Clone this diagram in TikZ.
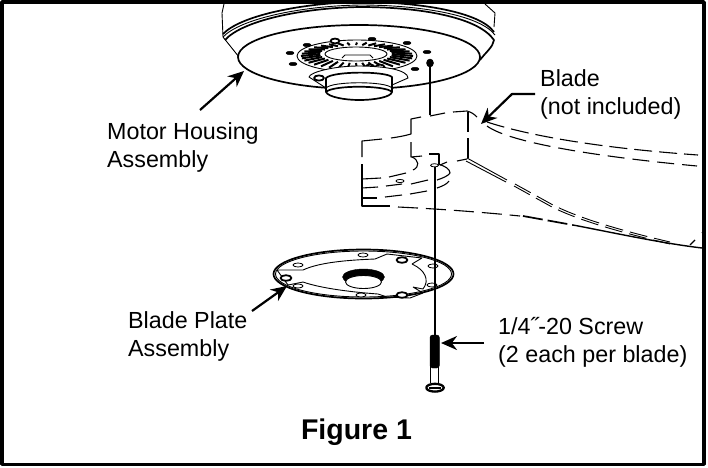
\documentclass[tikz,border=0pt]{standalone}
\usepackage{fontspec}
\setmainfont{Liberation Sans}
\usetikzlibrary{arrows.meta}

\begin{document}
\begin{tikzpicture}[
                x=1pt, y=-1pt,
                line join=bevel,
                partline/.style={black, line width=0.9pt},
                thickline/.style={black, line width=1.7pt},
                bladeline/.style={black, line width=1.1pt},
                smallhole/.style={draw=black, fill=white, line width=0.8pt},
                boldhole/.style={draw=black, fill=white, line width=1.8pt},
                darkhole/.style={draw=black, fill=black, line width=0.5pt},
                leader/.style={black, line width=2.2pt, -{Stealth[length=16pt, width=14pt]}},
                calloutlabel/.style={align=left, anchor=north west, inner sep=0pt, font=\fontsize{23.3}{28.5}\selectfont}
                ]
                \useasboundingbox (0, 0) rectangle (708, 467);

                %% Motor housing
                \begin{scope}
                \clip (4, 4) rectangle (704, 463);
                % Silhouette and rim
                \draw[partline] (224, 4) -- (222, 13) -- (223, 37) -- (239, 57);
                \draw[partline] (485, 4) -- (495, 13) -- (494, 27);
                \draw[thickline] (223, 34) .. controls (240, 16) and (300, 3) .. (360, 2) .. controls (420, 2) and (480, 12) .. (494, 32);
                \draw[partline] (223, 37) .. controls (240, 19) and (300, 6) .. (360, 5) .. controls (420, 5) and (480, 15) .. (495, 35);
                \draw[thickline] (225, 40) .. controls (242, 21) and (300, 8) .. (360, 7) .. controls (420, 7) and (478, 17) .. (494, 40) .. controls (493, 47) and (486, 52) .. (480, 60);
                \draw[thickline, fill=white] (359, 57) ellipse (121pt and 32pt);

                % Spoke ring
                \draw[partline] (357, 56) ellipse (60pt and 16pt);
                \foreach \a in {0,10,...,350} {
                    \draw[black, line width=2pt] ({356+36*cos(\a)}, {54+9*sin(\a)}) -- ({357+56*cos(\a)}, {56+13.5*sin(\a)});
                }
                \draw[partline, fill=white] (356, 54) ellipse (31pt and 7pt);
                \draw[partline] (342, 58) -- (345, 55) -- (370, 55) -- (373, 58);

                % Holes round the ring
                \foreach \x/\y in {290/53, 293/64, 307/45, 372/39, 407/43, 427/52, 415/69} {
                    \draw[darkhole] (\x, \y) ellipse (4pt and 1.7pt);
                }
                \foreach \x/\y in {335/41, 370/67, 380/67} {
                    \draw[boldhole] (\x, \y) ellipse (4.5pt and 2.4pt);
                }

                % Hub
                \draw[partline, fill=white] (309, 77) .. controls (310, 72) and (335, 66) .. (358, 66) .. controls (385, 66) and (408, 70) .. (408, 78) -- (392, 85) -- (326, 88) -- cycle;
                \draw[thickline, fill=white] (326, 78) -- (326, 92) .. controls (328, 97) and (345, 100) .. (359, 100) .. controls (375, 100) and (391, 97) .. (392, 92) -- (392, 77) .. controls (385, 71) and (333, 71) .. (326, 78) -- cycle;
                \draw[partline] (326, 88) .. controls (332, 81) and (386, 81) .. (392, 88);
                \draw[thickline] (326, 92) .. controls (332, 85) and (386, 85) .. (392, 92);
                \draw[boldhole] (319, 78) ellipse (5pt and 2.6pt);
                \end{scope}

                % Screw on the housing
                \draw[darkhole] (430, 63) ellipse (3.5pt and 4pt);
                \draw[thickline] (430, 66) -- (430, 115);

                %% Blade
                \begin{scope}[bladeline]
                \draw (362, 157) -- (362, 141) -- (382, 139);
                \draw (391, 138) .. controls (398, 137) and (404, 136) .. (411, 134) -- (411, 119) -- (421, 117);
                \draw (430, 116) -- (445, 113);
                \draw (453, 112) -- (467, 111) .. controls (471, 112) and (474, 114) .. (477, 117);
                \draw (468, 112) -- (468, 132);
                \draw (468, 138) -- (468, 158);
                \draw (362, 164) -- (362, 206) -- (390, 206);
                \draw (411, 142) -- (411, 157) -- (422, 156);
                \draw (412, 157) .. controls (419, 160) and (420, 167) .. (413, 170);
                \draw (429, 154) -- (439, 154) -- (439, 164);
                \draw (440, 165) -- (447, 162);
                \draw (457, 161) -- (467, 159);
                \draw (438, 164) .. controls (445, 166) and (450, 169) .. (450, 173) .. controls (448, 176) and (443, 178) .. (437, 180);
                \draw (449, 181) .. controls (447, 184) and (443, 186) .. (437, 188);
                % Stepped arcs
                \draw (362, 179) -- (381, 178);
                \draw (389, 177) -- (406, 173);
                \draw (362, 188) -- (378, 187);
                \draw (386, 186) -- (402, 184);
                \draw (411, 184) -- (428, 180);
                \draw (362, 198) -- (377, 198);
                \draw (385, 197) -- (402, 195);
                \draw (410, 194) -- (427, 191);
                \draw[smallhole] (400, 181) ellipse (4pt and 1.6pt);
                % Far edges
                \draw[dash pattern=on 18pt off 7pt] (487, 122) .. controls (530, 136) and (600, 148) .. (698, 155);
                \draw[dash pattern=on 17pt off 8pt] (487, 126) .. controls (510, 143) and (600, 157) .. (697, 166);
                % Near edge
                \draw[dash pattern=on 20pt off 8pt] (398, 207) .. controls (440, 209) and (480, 212) .. (520, 216);
                \draw[thickline, dash pattern=on 20pt off 5pt] (523, 216) -- (573, 225);
                \draw[line width=1.4pt] (573, 225) .. controls (610, 232) and (660, 243) .. (702, 248);
                \draw[partline] (467, 158) -- (507, 180);
                \draw[partline] (466, 161) -- (506, 182);
                \draw[partline, dash pattern=on 18pt off 7pt] (515, 184) -- (553, 205) .. controls (575, 216) and (610, 228) .. (670, 242);
                \draw[partline, dash pattern=on 18pt off 7pt] (514, 186) -- (552, 207) .. controls (574, 218) and (610, 230) .. (670, 244);
                \draw (690, 245) -- (695, 240);
                \draw (702, 233) -- (704, 230);
                \end{scope}

                %% Blade plate
                \draw[thickline, fill=white] (363.5, 274) ellipse (90pt and 24.5pt);
                \draw[partline] (363.5, 274) ellipse (88pt and 23pt);
                \draw[partline] (277, 270) -- (303, 270) .. controls (320, 262) and (350, 260) .. (375, 259) -- (387, 254) -- (422, 258) -- (412, 264) .. controls (425, 270) and (430, 280) .. (423, 289) -- (413, 287) -- (423, 293) -- (410, 298) -- (387, 297) -- (378, 294) .. controls (350, 292) and (320, 288) .. (303, 282) -- (288, 285) -- cycle;
                \foreach \x/\y in {363/255, 298/265, 298/286, 361/295, 433/266, 432/285} {
                    \draw[smallhole] (\x, \y) ellipse (5pt and 2pt);
                }
                \foreach \x/\y in {402/260, 286/278, 402/295} {
                    \draw[boldhole] (\x, \y) ellipse (5.5pt and 2.8pt);
                }
                \draw[black, fill=black] (363.5, 277) ellipse (21pt and 8pt);
                \draw[partline, fill=white] (363.5, 282) ellipse (18pt and 6.5pt);

                %% Screw
                \draw[thickline] (435, 167) -- (435, 337);
                \draw[smallhole] (434.5, 165.3) ellipse (4pt and 1.6pt);
                \draw[black, fill=black, rounded corners=2.5pt] (430, 368) -- (430, 335) -- (439.3, 335) -- (439.3, 368) -- cycle;
                \draw[partline] (430.7, 366) -- (430.7, 383);
                \draw[partline] (438.3, 366) -- (438.3, 383);
                \draw[black, line width=2.3pt, fill=white] (435, 387.7) ellipse (8.7pt and 3.9pt);
                \draw[thickline] (429, 388) -- (441, 388);

                %% Labels
                \node[calloutlabel] (motorlabel) at (107, 122) {Motor Housing\\Assembly};
                \node[calloutlabel] (bladelabel) at (540, 69) {Blade\\(not included)};
                \node[calloutlabel] (platelabel) at (128, 311) {Blade Plate\\Assembly};
                \node[calloutlabel] (screwlabel) at (498, 317) {1/4˝-20 Screw\\(2 each per blade)};
                \node[inner sep=0pt, font=\fontsize{28.5}{30}\selectfont\bfseries] (figlabel) at (356.5, 432) {Figure 1};

                % Arrows
                \coordinate (motorstart) at (200, 110);
                \coordinate (motortip) at (244, 71);
                \coordinate (bladestart) at (535, 94);
                \coordinate (bladeknee) at (512, 94);
                \coordinate (bladetip) at (481, 124);
                \coordinate (platestart) at (252, 311);
                \coordinate (platetip) at (287, 286);
                \coordinate (screwstart) at (484, 343);
                \coordinate (screwtip) at (441, 343);
                \draw[leader] (motorstart) -- (motortip);
                \draw[leader] (bladestart) -- (bladeknee) -- (bladetip);
                \draw[leader] (platestart) -- (platetip);
                \draw[leader] (screwstart) -- (screwtip);

                %% Frame
                \draw[black, line width=3.5pt] (2, 2) rectangle (704, 464.5);
\end{tikzpicture}
\end{document}
